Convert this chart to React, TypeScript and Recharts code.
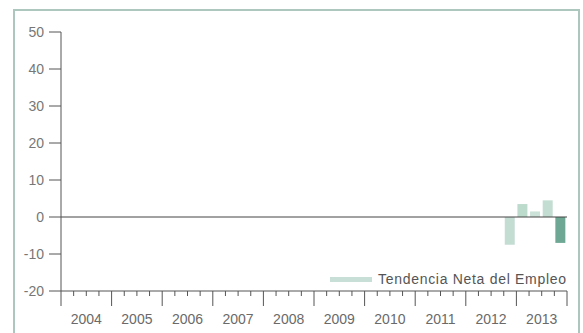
import { BarChart, Bar, XAxis, YAxis, ReferenceLine, Cell } from 'recharts'

const years = ['2004', '2005', '2006', '2007', '2008', '2009', '2010', '2011', '2012', '2013']
const quarters = ['T1', 'T2', 'T3', 'T4']
const yTicks = [-20, -10, 0, 10, 20, 30, 40, 50]

// only the last five quarters carry a value
const trendQuarters = ['2012-T4', '2013-T1', '2013-T2', '2013-T3', '2013-T4']
const trendValues = [-7.5, 3.5, 1.5, 4.5, -7]
const trendColors = ['#c4ddd3', '#bddbcd', '#cbe2d8', '#c3ddd2', '#6ea894']

const data = years.flatMap(y =>
  quarters.map(q => {
    const key = `${y}-${q}`
    const i = trendQuarters.indexOf(key)
    return { q: key, value: i >= 0 ? trendValues[i] : null, color: i >= 0 ? trendColors[i] : '#fff' }
  })
)

const FONT = '"Liberation Sans", Arial, sans-serif'
const PLOT_LEFT = 61
const PLOT_RIGHT = 567
const BAND = (PLOT_RIGHT - PLOT_LEFT) / data.length

// eslint-disable-next-line @typescript-eslint/no-explicit-any
function QuarterTick({ x, y, index }: any) {
  const x0 = x - BAND / 2
  const major = index % 4 === 0
  const year = years[Math.floor(index / 4)]
  return (
    <g>
      <line x1={x0} y1={y} x2={x0} y2={y + (major ? 15 : 5)} stroke="#555" strokeWidth={1} />
      {index === data.length - 1 && (
        <line x1={x + BAND / 2} y1={y} x2={x + BAND / 2} y2={y + 15} stroke="#555" strokeWidth={1} />
      )}
      {index % 4 === 2 && (
        <text x={x0} y={y + 33} textAnchor="middle" fontSize={14} fill="#6a6a6a" fontFamily={FONT}>
          {year}
        </text>
      )}
    </g>
  )
}

export default function App() {
  return (
    <div style={{ position: 'absolute', left: 0, top: 0, width: 583, height: 333, overflow: 'hidden', background: '#fff' }}>
      <div
        style={{
          position: 'absolute',
          left: 13,
          top: 9,
          width: 567,
          height: 340,
          border: '2px solid #adc7be',
          boxSizing: 'border-box',
        }}
      />
      <div style={{ position: 'absolute', left: 0, top: 0 }}>
        <BarChart
          width={583}
          height={333}
          data={data}
          margin={{ top: 32, right: 583 - PLOT_RIGHT, left: 0, bottom: 12 }}
          barSize={10}
        >
          <XAxis
            dataKey="q"
            height={30}
            interval={0}
            tickLine={false}
            tickSize={0}
            tickMargin={0}
            axisLine={{ stroke: '#555' }}
            tick={<QuarterTick />}
          />
          <YAxis
            width={PLOT_LEFT}
            domain={[-20, 50]}
            ticks={yTicks}
            interval={0}
            tickSize={12}
            tickMargin={5}
            axisLine={{ stroke: '#555' }}
            tickLine={{ stroke: '#555' }}
            tick={{ fontSize: 14, fill: '#777', fontFamily: FONT }}
          />
          <ReferenceLine y={0} stroke="#444" strokeWidth={1} />
          <Bar dataKey="value" isAnimationActive={false}>
            {data.map(d => (
              <Cell key={d.q} fill={d.color} />
            ))}
          </Bar>
        </BarChart>
      </div>
      <div
        style={{
          position: 'absolute',
          left: 330,
          top: 271,
          display: 'flex',
          alignItems: 'center',
          fontFamily: FONT,
          fontSize: 14,
          letterSpacing: 0.7,
          color: '#555',
          whiteSpace: 'nowrap',
        }}
      >
        <div style={{ width: 42, height: 5, background: '#c7dfd7', marginRight: 6 }} />
        <span>Tendencia Neta del Empleo</span>
      </div>
    </div>
  )
}
